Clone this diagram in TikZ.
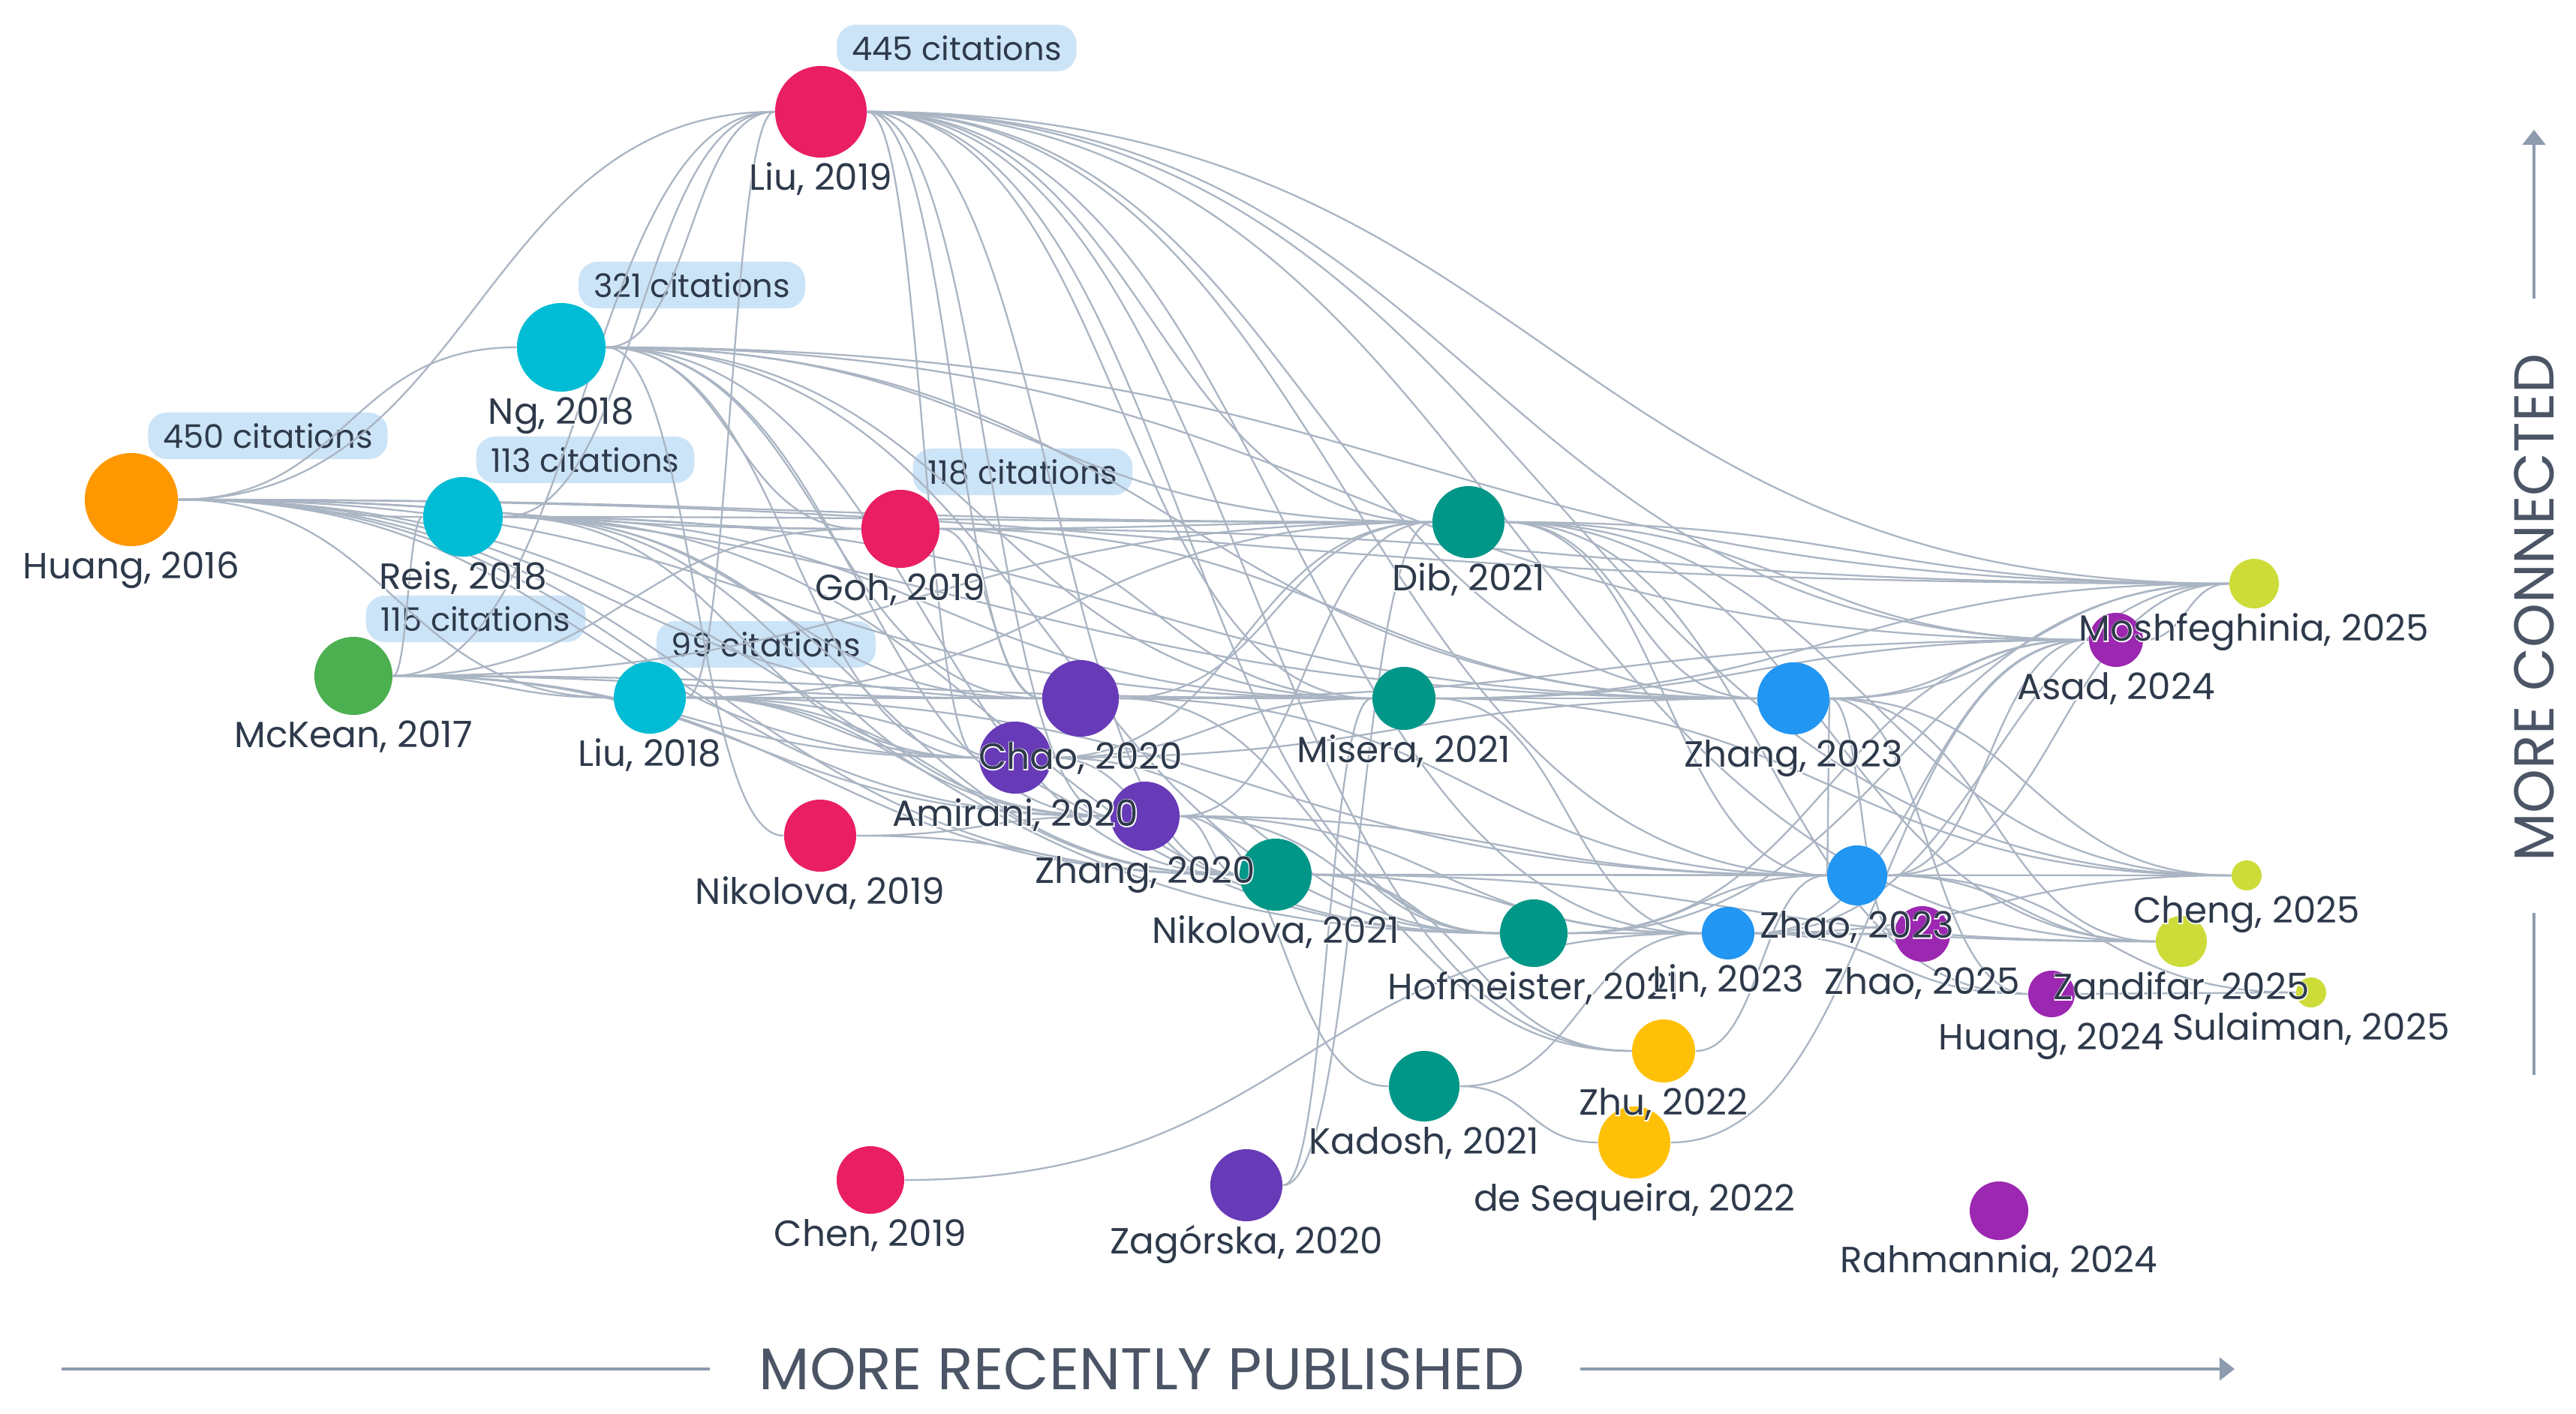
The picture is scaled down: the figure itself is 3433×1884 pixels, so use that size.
\documentclass[tikz,border=0pt]{standalone}
\usepackage{fontspec}
\setmainfont{Poppins}
\newfontfamily\halofont{Poppins}[FakeBold=5]
\usetikzlibrary{calc,arrows.meta}
\definecolor{cOrange}{HTML}{FF9800}
\definecolor{cGreen}{HTML}{4CAF50}
\definecolor{cCyan}{HTML}{00BCD4}
\definecolor{cPink}{HTML}{E91E63}
\definecolor{cDPurple}{HTML}{673AB7}
\definecolor{cTeal}{HTML}{009688}
\definecolor{cAmber}{HTML}{FFC107}
\definecolor{cBlue}{HTML}{2196F3}
\definecolor{cPurple}{HTML}{9C27B0}
\definecolor{cLime}{HTML}{CDDC39}
\definecolor{cEdge}{HTML}{AAB5C3}
\definecolor{cText}{HTML}{2E3A4B}
\definecolor{cBadge}{HTML}{CCE4F7}
\definecolor{cAxis}{HTML}{8D9BAE}
\definecolor{cAxText}{HTML}{4B5566}
\pgfdeclarelayer{back}\pgfdeclarelayer{bg}\pgfdeclarelayer{fg}\pgfsetlayers{back,bg,main,fg}
\tikzset{
  edge/.style={draw=cEdge, line width=0.65pt},
  dot/.style={circle, inner sep=0pt, draw=none},
  lab/.style={anchor=base, inner sep=0pt, text=cText, font=\fontsize{13.8pt}{16pt}\selectfont},
  badge/.style={fill=cBadge, rounded corners=0.25cm, inner xsep=0.2cm, inner ysep=0pt, minimum height=0.62cm, text=cText, font=\fontsize{12.3pt}{14pt}\selectfont},
  axline/.style={draw=cAxis, line width=1.3pt},
  axtext/.style={inner sep=0pt, text=cAxText}
}
\newcommand\pap[5]{\node[dot, fill=#5, minimum size=#4*0.02cm] (#1) at (#2,#3) {};}
\newcommand\plab[2]{\node[lab] (#1-l) at ($(#1.south)+(0,43)$) {\rlap{\halofont\color{white}#2}#2};}
\newcommand\lk[2]{\draw[edge] let \p1=(#1.east), \p2=(#2.west), \p3=($(\p1)!0.5!(\p2)$) in (\p1) .. controls (\x3,\y1) and (\x3,\y2) .. (\p2);}
\begin{document}
\begin{tikzpicture}[x=0.01cm, y=-0.01cm]
\begin{pgfonlayer}{back}
\fill[white] (0,0) rectangle (3433,1884);
\end{pgfonlayer}
\useasboundingbox (0,0) rectangle (3433,1884);
% papers
\pap{huang16}{175}{666}{62}{cOrange}
\pap{mckean17}{471}{901}{52}{cGreen}
\pap{ng18}{748}{463}{59}{cCyan}
\pap{reis18}{617}{689}{53}{cCyan}
\pap{liu18}{866}{930}{48}{cCyan}
\pap{liu19}{1094}{149}{61}{cPink}
\pap{goh19}{1200}{705}{52}{cPink}
\pap{nik19}{1093}{1114}{48}{cPink}
\pap{chen19}{1160}{1573}{45}{cPink}
\pap{chao20}{1440}{931}{51}{cDPurple}
\pap{amir20}{1353}{1010}{48}{cDPurple}
\pap{zhang20}{1526}{1088}{46}{cDPurple}
\pap{zag20}{1661}{1580}{48}{cDPurple}
\pap{dib21}{1957}{696}{48}{cTeal}
\pap{mis21}{1871}{931}{42}{cTeal}
\pap{nik21}{1700}{1166}{48}{cTeal}
\pap{hof21}{2044}{1244}{45}{cTeal}
\pap{kad21}{1898}{1448}{47}{cTeal}
\pap{zhu22}{2217}{1401}{42}{cAmber}
\pap{deseq22}{2178}{1523}{48}{cAmber}
\pap{zhang23}{2390}{931}{48}{cBlue}
\pap{zhao23}{2475}{1167}{40}{cBlue}
\pap{lin23}{2303}{1244}{35}{cBlue}
\pap{asad24}{2820}{853}{36}{cPurple}
\pap{huang24}{2734}{1325}{31}{cPurple}
\pap{rahm24}{2664}{1614}{39}{cPurple}
\pap{zhao25}{2562}{1245}{37}{cPurple}
\pap{mosh25}{3004}{778}{33}{cLime}
\pap{cheng25}{2994}{1167}{20}{cLime}
\pap{zand25}{2907}{1255}{34}{cLime}
\pap{sula25}{3080}{1323}{20}{cLime}
\begin{pgfonlayer}{bg}
% citation badges
\node[badge] (b445) at (1275,64) {445 citations};
\node[badge] (b321) at (922,380) {321 citations};
\node[badge] (b450) at (357,581) {450 citations};
\node[badge] (b113) at (780,613) {113 citations};
\node[badge] (b118) at (1363,629) {118 citations};
\node[badge] (b115) at (634,825) {115 citations};
\node[badge] (b99) at (1021,859) {99 citations};
% links
\foreach \a/\b in {
 huang16/liu19, huang16/ng18, huang16/reis18, huang16/goh19, huang16/dib21, huang16/mosh25,
 huang16/chao20, huang16/amir20, huang16/zhang20, huang16/mis21, huang16/nik21, huang16/hof21,
 huang16/liu18, huang16/zhang23,
 mckean17/liu19, mckean17/reis18, mckean17/liu18, mckean17/chao20, mckean17/amir20,
 mckean17/zhang20, mckean17/goh19, mckean17/dib21, mckean17/mis21, mckean17/nik21,
 ng18/liu19, ng18/goh19, ng18/dib21, ng18/mis21, ng18/chao20, ng18/amir20, ng18/zhang20,
 ng18/nik21, ng18/nik19, ng18/zhang23, ng18/mosh25, ng18/asad24, ng18/hof21,
 reis18/liu19, reis18/goh19, reis18/dib21, reis18/chao20, reis18/amir20, reis18/zhang20,
 reis18/mis21, reis18/nik21, reis18/zhang23, reis18/hof21,
 liu18/liu19, liu18/chao20, liu18/amir20, liu18/zhang20, liu18/mis21, liu18/nik21,
 liu18/dib21, liu18/hof21, liu18/zhao23,
 liu19/dib21, liu19/mosh25, liu19/asad24, liu19/zhang23, liu19/mis21, liu19/chao20,
 liu19/amir20, liu19/zhang20, liu19/nik21, liu19/hof21, liu19/zhao23, liu19/lin23,
 liu19/cheng25, liu19/zand25, liu19/zhu22,
 goh19/dib21, goh19/mosh25, goh19/mis21, goh19/zhang23, goh19/chao20,
 nik19/zhang20, nik19/nik21, chen19/lin23,
 amir20/dib21, amir20/mis21, amir20/nik21, amir20/hof21, amir20/zhang23,
 chao20/mis21, chao20/dib21, chao20/zhang23, chao20/hof21, chao20/zhao23, chao20/asad24,
 zhang20/dib21, zhang20/nik21, zhang20/kad21, zhang20/zhu22, zhang20/lin23, zhang20/zhao23,
 zag20/mis21, zag20/dib21,
 mis21/zhang23, mis21/asad24, mis21/mosh25, mis21/lin23, mis21/cheng25,
 dib21/mosh25, dib21/asad24, dib21/cheng25, dib21/zand25, dib21/zhang23, dib21/zhao23, dib21/huang24,
 nik21/zhao23, nik21/zhu22, nik21/hof21, nik21/lin23, nik21/cheng25, nik21/zand25,
 hof21/lin23, hof21/zhao23, hof21/asad24, hof21/mosh25, hof21/zhao25,
 kad21/deseq22, kad21/lin23, zhu22/zhao23, deseq22/asad24,
 zhang23/zhao23, zhang23/asad24, zhang23/mosh25, zhang23/cheng25, zhang23/zand25,
 zhang23/huang24, zhang23/zhao25,
 zhao23/cheng25, zhao23/asad24, zhao23/mosh25, zhao23/zand25, zhao23/sula25,
 lin23/asad24, lin23/mosh25, lin23/cheng25, lin23/zand25, lin23/zhao25, lin23/huang24,
 huang24/sula25, asad24/mosh25}
 {\lk{\a}{\b}}
\end{pgfonlayer}
\begin{pgfonlayer}{fg}
\plab{huang16}{Huang, 2016}
\plab{mckean17}{McKean, 2017}
\plab{ng18}{Ng, 2018}
\plab{reis18}{Reis, 2018}
\plab{liu18}{Liu, 2018}
\plab{liu19}{Liu, 2019}
\plab{goh19}{Goh, 2019}
\plab{nik19}{Nikolova, 2019}
\plab{chen19}{Chen, 2019}
\plab{zag20}{Zagórska, 2020}
\plab{zhang20}{Zhang, 2020}
\plab{amir20}{Amirani, 2020}
\plab{chao20}{Chao, 2020}
\plab{dib21}{Dib, 2021}
\plab{mis21}{Misera, 2021}
\plab{nik21}{Nikolova, 2021}
\plab{hof21}{Hofmeister, 2021}
\plab{kad21}{Kadosh, 2021}
\plab{zhu22}{Zhu, 2022}
\plab{deseq22}{de Sequeira, 2022}
\plab{zhang23}{Zhang, 2023}
\plab{lin23}{Lin, 2023}
\plab{zhao25}{Zhao, 2025}
\plab{zhao23}{Zhao, 2023}
\plab{asad24}{Asad, 2024}
\plab{huang24}{Huang, 2024}
\plab{rahm24}{Rahmannia, 2024}
\plab{mosh25}{Moshfeghinia, 2025}
\plab{sula25}{Sulaiman, 2025}
\plab{zand25}{Zandifar, 2025}
\plab{cheng25}{Cheng, 2025}
\end{pgfonlayer}
% axes
\coordinate (ax1) at (82,1825);
\coordinate (ax2) at (946,1825);
\coordinate (ax3) at (2106,1825);
\coordinate (ax4) at (2978,1825);
\node[axtext, font=\fontsize{22.3pt}{26pt}\selectfont] (axl) at (1522,1825) {MORE RECENTLY PUBLISHED};
\draw[axline] (ax1) -- (ax2);
\draw[axline, -{Triangle[length=0.2cm, width=0.3cm]}] (ax3) -- (ax4);
\coordinate (ay1) at (3377,398);
\coordinate (ay2) at (3377,173);
\coordinate (ay3) at (3377,1217);
\coordinate (ay4) at (3377,1433);
\node[axtext, rotate=90, font=\fontsize{21.3pt}{25pt}\selectfont] (ayl) at (3377,810) {MORE CONNECTED};
\draw[axline, -{Triangle[length=0.2cm, width=0.3cm]}] (ay1) -- (ay2);
\draw[axline] (ay3) -- (ay4);
\end{tikzpicture}
\end{document}
